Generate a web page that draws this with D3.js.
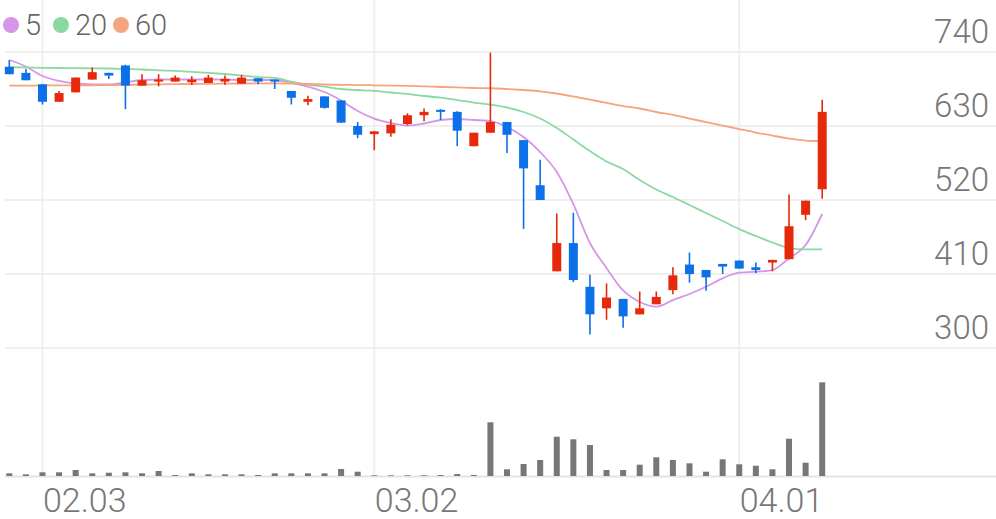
<!DOCTYPE html>
<html><head><meta charset="utf-8">
<script src="https://cdn.jsdelivr.net/npm/d3@7/dist/d3.min.js"></script>
<style>
html,body{margin:0;padding:0;background:#fff;}
svg{display:block;font-family:Roboto,"Noto Sans",sans-serif;}
</style></head>
<body>
<svg id="chart" width="996" height="519"></svg>
<script>
const dates = ["2020-01-30","2020-01-31","2020-02-03","2020-02-04","2020-02-05","2020-02-06","2020-02-07","2020-02-10","2020-02-11","2020-02-12",
"2020-02-13","2020-02-14","2020-02-17","2020-02-18","2020-02-19","2020-02-20","2020-02-21","2020-02-24","2020-02-25","2020-02-26",
"2020-02-27","2020-02-28","2020-03-02","2020-03-03","2020-03-04","2020-03-05","2020-03-06","2020-03-09","2020-03-10","2020-03-11",
"2020-03-12","2020-03-13","2020-03-16","2020-03-17","2020-03-18","2020-03-19","2020-03-20","2020-03-23","2020-03-24","2020-03-25",
"2020-03-26","2020-03-27","2020-03-30","2020-03-31","2020-04-01","2020-04-02","2020-04-03","2020-04-06","2020-04-07","2020-04-08"];

const openP  = [718,709,692,666,680,699,709,720,690,696, 696,695,694,696,693,701,699,682,666,674, 668,630,618,619,633,646,654,651,600,620, 636,609,542,414,456,391,359,373,350,365, 386,424,416,425,430,420,427,432,498,536];
const highP  = [728,715,692,682,702,717,709,721,707,707, 705,704,706,705,706,701,699,682,675,674, 668,636,622,640,649,656,655,652,620,739, 636,609,580,500,501,409,396,373,384,384, 420,442,416,425,430,427,431,528,519,669];
const lowP   = [707,698,662,666,680,699,700,655,690,689, 696,691,694,691,693,692,685,662,661,656, 635,612,594,614,631,637,639,600,600,620, 590,477,520,414,398,320,342,330,350,365, 380,397,385,410,418,411,414,432,490,522];
const closeP = [707,698,666,679,702,710,705,690,698,699, 702,699,702,700,702,696,696,672,670,657, 635,617,622,632,646,651,651,623,620,636, 617,567,520,456,401,350,375,347,359,376, 408,410,405,421,418,416,431,481,519,651];
const volume = [27,17,37,37,60,27,33,37,27,50, 10,27,17,17,17,10,27,27,27,27, 70,43,7,7,7,7,10,20,10,537, 67,120,160,393,367,310,60,60,113,187, 160,127,43,167,117,103,67,373,133,937];

const ma5  = [728.1,718.4,704.3,696.9,693.2,692,692,694.7,698.4,699.1, 699.1,699.1,699.1,699.1,698.4,698.4,698.4,693.9,688.7,680.5, 667.9,652.3,641.1,634.5,630.7,633.7,638.9,640.4,638.9,637.4, 628.5,613.6,591.3,561.6,514,456.1,418.9,385.5,368.4,361.4, 371.3,380.3,391.1,403.6,411.9,413.4,415.9,433.3,453.1,499.2];
const ma20 = [717.3,717,716.5,716.2,715.9,715.8,715.5,714.7,714,712.8, 711.8,710.6,709.1,707.3,705.1,702.8,701.4,696.1,691.7,688.4, 685,683.5,682.3,679.8,677.6,674.6,672.1,668.6,664.9,661.7, 657.5,650.8,641.1,627,609.9,592.8,577.2,566,549.7,535.6, 524.4,512.5,500.6,488.7,476.8,466.5,456.8,448.6,446.7,446.7];
const ma60 = [689.9,690.1,690.2,690.4,690.5,690.6,690.9,691.2,691.5,691.8, 692.1,692.4,692.7,693,693.2,693.3,693.3,693.2,692.4,691.7, 691.2,690.9,690.5,690.1,689.5,688.8,688,687.3,686.5,686.1, 685,683.5,681.6,678.3,673.9,669.1,664.5,659.7,656,650.8, 646.4,641.1,635.9,630.7,625.5,620.3,615.8,611.4,608.4,607.7];

const priceTicks = [300,410,520,630,740];
const dateTicks = ["02.03","03.02","04.01"];
const maNames = ["5","20","60"];
const maColors = ["#d596e8","#8bd9a2","#f6a47c"];

const W = 996, H = 519;
const svg = d3.select("#chart");
const n = dates.length;
const fmt = d => d.slice(5).replace("-", ".");
const labels = dates.map(fmt);

const x = d3.scaleLinear().domain([0, n - 1]).range([9.3, 822.2]);
const y = d3.scaleLinear().domain([300, 740]).range([348, 52]);
const yv = d3.scaleLinear().domain([0, 1000]).range([476, 376]);

const upColor = "#e5290a", downColor = "#0c70e8";
const gridColor = "#efefef";

// grid
const g = svg.append("g");
g.selectAll(".hg").data(priceTicks).join("line")
  .attr("x1", 5).attr("x2", W).attr("y1", d => y(d)).attr("y2", d => y(d))
  .attr("stroke", gridColor).attr("stroke-width", 2);
g.selectAll(".vg").data(dateTicks).join("line")
  .attr("x1", d => x(labels.indexOf(d))).attr("x2", d => x(labels.indexOf(d)))
  .attr("y1", 0).attr("y2", 476)
  .attr("stroke", gridColor).attr("stroke-width", 2);
// volume baseline
g.append("line").attr("x1", 5).attr("x2", W).attr("y1", 476.5).attr("y2", 476.5)
  .attr("stroke", "#e3e3e3").attr("stroke-width", 2);

// price labels
svg.append("g").selectAll("text").data(priceTicks).join("text")
  .attr("x", 989).attr("y", d => y(d) - 9.5)
  .attr("text-anchor", "end").attr("font-size", 33).attr("font-weight", 300)
  .attr("fill", "#777").text(d => d);

// date labels
svg.append("g").selectAll("text").data(dateTicks).join("text")
  .attr("x", d => x(labels.indexOf(d)) + 0.5).attr("y", 511.5)
  .attr("text-anchor", "start").attr("font-size", 34).attr("font-weight", 300)
  .attr("fill", "#777").text(d => d);

// volume bars
svg.append("g").selectAll("rect").data(volume).join("rect")
  .attr("x", (d, i) => x(i) - 3).attr("width", 6)
  .attr("y", d => yv(d)).attr("height", d => 476 - yv(d))
  .attr("fill", "#777");

// MA lines
const line = d3.line().x((d, i) => x(i)).y(d => y(d)).curve(d3.curveMonotoneX);
[ma5, ma20, ma60].forEach((arr, k) => {
  svg.append("path").datum(arr).attr("d", line)
    .attr("fill", "none").attr("stroke", maColors[k]).attr("stroke-width", 1.8);
});

// candles
const cg = svg.append("g");
const idx = d3.range(n);
const col = i => closeP[i] >= openP[i] ? upColor : downColor;
cg.selectAll(".wick").data(idx).join("line")
  .attr("x1", i => x(i)).attr("x2", i => x(i))
  .attr("y1", i => y(highP[i])).attr("y2", i => y(lowP[i]))
  .attr("stroke", col).attr("stroke-width", 1.6);
cg.selectAll(".body").data(idx).join("rect")
  .attr("x", i => x(i) - 4.5).attr("width", 9)
  .attr("y", i => y(Math.max(openP[i], closeP[i])))
  .attr("height", i => Math.max(2, Math.abs(y(openP[i]) - y(closeP[i]))))
  .attr("fill", col);

// legend
const lg = svg.append("g");
const legX = [11, 61, 121];
maNames.forEach((nm, k) => {
  lg.append("circle").attr("cx", legX[k]).attr("cy", 25).attr("r", 8).attr("fill", maColors[k]);
  lg.append("text").attr("x", legX[k] + 14).attr("y", 35).attr("font-size", 29).attr("font-weight", 300)
    .attr("fill", "#666").text(nm);
});
</script>
</body></html>
